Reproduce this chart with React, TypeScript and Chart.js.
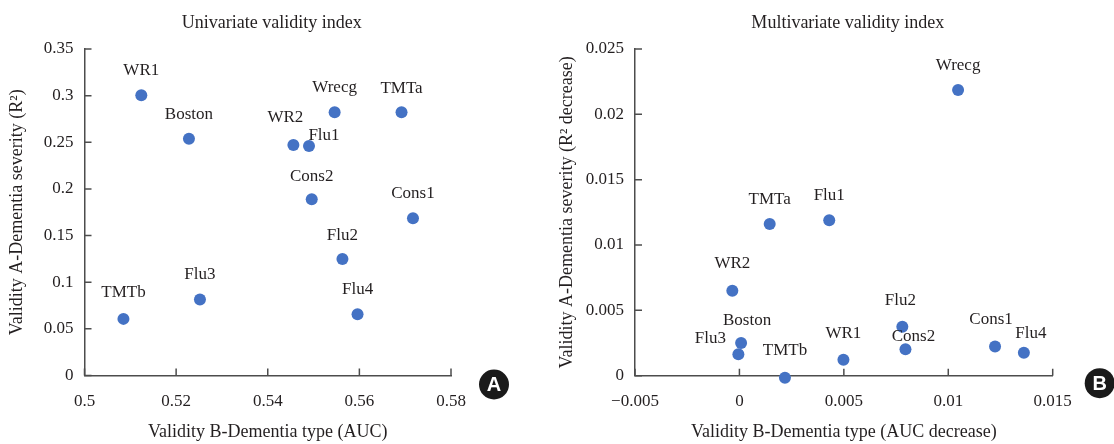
import React, { useEffect, useRef } from "react";
import { Chart, registerables } from "chart.js";

Chart.register(...registerables);

// ---------- data ----------
const tests = ["WR1", "Boston", "WR2", "Flu1", "Wrecg", "TMTa", "Cons2", "Cons1", "Flu2", "Flu3", "TMTb", "Flu4"];

// Univariate validity index (panel A)
const uniAUC = [0.5124, 0.5228, 0.5456, 0.549, 0.5546, 0.5692, 0.5496, 0.5717, 0.5563, 0.5252, 0.5085, 0.5596];
const uniR2 = [0.3005, 0.2539, 0.2472, 0.2461, 0.2823, 0.2823, 0.189, 0.1685, 0.125, 0.0814, 0.0607, 0.0657];

// Multivariate validity index (panel B)
const multiAUCDecrease = [0.00498, 0.00008, -0.00034, 0.0043, 0.01047, 0.00145, 0.00795, 0.01224, 0.0078, -0.00005, 0.00218, 0.01362];
const multiR2Decrease = [0.00122, 0.0025, 0.0065, 0.0119, 0.02187, 0.0116, 0.00203, 0.00224, 0.00375, 0.00165, -0.00015, 0.00176];

// ticks
const uniXTicks = [0.5, 0.52, 0.54, 0.56, 0.58];
const uniXTickLabels = ["0.5", "0.52", "0.54", "0.56", "0.58"];
const uniYTicks = [0, 0.05, 0.1, 0.15, 0.2, 0.25, 0.3, 0.35];
const uniYTickLabels = ["0", "0.05", "0.1", "0.15", "0.2", "0.25", "0.3", "0.35"];
const multiXTicks = [-0.005, 0, 0.005, 0.01, 0.015];
const multiXTickLabels = ["\u22120.005", "0", "0.005", "0.01", "0.015"];
const multiYTicks = [0, 0.005, 0.01, 0.015, 0.02, 0.025];
const multiYTickLabels = ["0", "0.005", "0.01", "0.015", "0.02", "0.025"];

// label placement nudges (px, relative to point)
const uniNudge: Record<string, [number, number]> = {
  WR2: [-8, -27],
  Flu1: [15, -10],
  Cons2: [0, -23],
  Flu2: [0, -23],
  Boston: [0, -24],
  TMTa: [0, -24],
  TMTb: [0, -26],
};
const multiNudge: Record<string, [number, number]> = {
  Wrecg: [0, -24],
  WR2: [0, -27],
  Flu2: [-2, -26],
  Boston: [6, -22],
  Flu3: [-28, -16],
  TMTb: [0, -27],
  WR1: [0, -26],
  Cons2: [8, -13],
  Cons1: [-4, -27],
  Flu4: [7, -19],
};

// ---------- styles ----------
const SERIF = "'Liberation Serif', 'Times New Roman', serif";
const TEXT = "#231f20";
const AXIS = "#4d4d4d";
const DOT = "#4472c4";

type PanelCfg = {
  title: string;
  xTitle: string;
  yTitle: string;
  xs: number[];
  ys: number[];
  xTicks: number[];
  xTickLabels: string[];
  yTicks: number[];
  yTickLabels: string[];
  nudge: Record<string, [number, number]>;
  badge: string;
  area: { left: number; right: number; top: number; bottom: number };
  yTitlePad: number;
  titleShift: number;
  badgeOffset: [number, number];
};

function Panel({ cfg, left }: { cfg: PanelCfg; left: number }) {
  const ref = useRef<HTMLCanvasElement | null>(null);
  useEffect(() => {
    const canvas = ref.current!;
    const W = 557;
    const H = 444;
    const a = cfg.area;

    const innerTicks = {
      id: "innerTicks",
      beforeDatasetsDraw(chart: any) {
        const { ctx, chartArea: ca, scales } = chart;
        const x = scales.x;
        const y = scales.y;
        ctx.save();
        ctx.strokeStyle = AXIS;
        ctx.lineWidth = 1.5;
        ctx.beginPath();
        x.ticks.forEach((t: any) => {
          const px = x.getPixelForValue(t.value);
          ctx.moveTo(px, ca.bottom);
          ctx.lineTo(px, ca.bottom - 7);
        });
        y.ticks.forEach((t: any) => {
          const py = y.getPixelForValue(t.value);
          ctx.moveTo(ca.left, py);
          ctx.lineTo(ca.left + 7, py);
        });
        ctx.stroke();
        ctx.restore();
      },
    };

    const decorations = {
      id: "decorations",
      afterDraw(chart: any) {
        const { ctx, chartArea: ca } = chart;
        ctx.save();
        // title
        ctx.fillStyle = TEXT;
        ctx.font = `18px ${SERIF}`;
        ctx.textAlign = "center";
        ctx.textBaseline = "middle";
        ctx.fillText(cfg.title, (ca.left + ca.right) / 2 + cfg.titleShift, 23);
        // point labels
        ctx.font = `17px ${SERIF}`;
        const meta = chart.getDatasetMeta(0);
        meta.data.forEach((el: any, i: number) => {
          const name = tests[i];
          const [dx, dy] = cfg.nudge[name] || [0, -25];
          ctx.fillText(name, el.x + dx, el.y + dy);
        });
        // badge
        const bx = ca.right + cfg.badgeOffset[0];
        const by = ca.bottom + cfg.badgeOffset[1];
        ctx.beginPath();
        ctx.arc(bx, by, 15, 0, Math.PI * 2);
        ctx.fillStyle = "#1a1a1a";
        ctx.fill();
        ctx.fillStyle = "#ffffff";
        ctx.font = `bold 20px 'Liberation Sans', Arial, sans-serif`;
        ctx.fillText(cfg.badge, bx, by + 1);
        ctx.restore();
      },
    };

    const chart = new Chart(canvas, {
      type: "scatter",
      data: {
        datasets: [
          {
            data: cfg.xs.map((x, i) => ({ x, y: cfg.ys[i] })),
            backgroundColor: DOT,
            borderColor: DOT,
            borderWidth: 0,
            pointRadius: 6,
            pointHoverRadius: 6,
            clip: false as any,
          },
        ],
      },
      options: {
        responsive: false,
        animation: false,
        events: [],
        layout: { padding: { left: 0, top: a.top, right: W - a.right, bottom: 0 } },
        plugins: { legend: { display: false }, tooltip: { enabled: false }, title: { display: false } },
        scales: {
          x: {
            type: "linear",
            min: cfg.xTicks[0],
            max: cfg.xTicks[cfg.xTicks.length - 1],
            afterBuildTicks: (s: any) => {
              s.ticks = cfg.xTicks.map((v) => ({ value: v }));
            },
            afterFit: (s: any) => {
              s.height = H - a.bottom;
            },
            grid: { display: false, drawTicks: false },
            border: { display: true, color: AXIS, width: 1.5 },
            ticks: {
              padding: 16,
              color: TEXT,
              font: { family: SERIF, size: 17 },
              maxRotation: 0,
              autoSkip: false,
              callback: (_v: any, i: number) => cfg.xTickLabels[i],
            },
            title: {
              display: true,
              text: cfg.xTitle,
              color: TEXT,
              font: { family: SERIF, size: 18 },
              padding: { top: 0, bottom: 0.5 },
            },
          },
          y: {
            type: "linear",
            min: cfg.yTicks[0],
            max: cfg.yTicks[cfg.yTicks.length - 1],
            afterBuildTicks: (s: any) => {
              s.ticks = cfg.yTicks.map((v) => ({ value: v }));
            },
            afterFit: (s: any) => {
              s.width = a.left;
            },
            grid: { display: false, drawTicks: false },
            border: { display: true, color: AXIS, width: 1.5 },
            ticks: {
              padding: 11,
              color: TEXT,
              font: { family: SERIF, size: 17 },
              autoSkip: false,
              callback: (_v: any, i: number) => cfg.yTickLabels[i],
            },
            title: {
              display: true,
              text: cfg.yTitle,
              color: TEXT,
              font: { family: SERIF, size: 18 },
              padding: { top: cfg.yTitlePad, bottom: 0 },
            },
          },
        },
      } as any,
      plugins: [innerTicks, decorations],
    });
    return () => chart.destroy();
  }, [cfg]);

  return (
    <div style={{ position: "absolute", left, top: 0, width: 557, height: 444 }}>
      <canvas ref={ref} width={557} height={444} style={{ display: "block" }} />
    </div>
  );
}

const panelA: PanelCfg = {
  title: "Univariate validity index",
  xTitle: "Validity B-Dementia type (AUC)",
  yTitle: "Validity A-Dementia severity (R\u00b2)",
  xs: uniAUC,
  ys: uniR2,
  xTicks: uniXTicks,
  xTickLabels: uniXTickLabels,
  yTicks: uniYTicks,
  yTickLabels: uniYTickLabels,
  nudge: uniNudge,
  badge: "A",
  area: { left: 84.5, right: 451, top: 49, bottom: 375.5 },
  yTitlePad: 6,
  titleShift: 4,
  badgeOffset: [43, 9],
};

const panelB: PanelCfg = {
  title: "Multivariate validity index",
  xTitle: "Validity B-Dementia type (AUC decrease)",
  yTitle: "Validity A-Dementia severity (R\u00b2 decrease)",
  xs: multiAUCDecrease,
  ys: multiR2Decrease,
  xTicks: multiXTicks,
  xTickLabels: multiXTickLabels,
  yTicks: multiYTicks,
  yTickLabels: multiYTickLabels,
  nudge: multiNudge,
  badge: "B",
  area: { left: 78, right: 495.7, top: 49, bottom: 375.7 },
  yTitlePad: -1,
  titleShift: 4,
  badgeOffset: [47, 7.5],
};

export default function App() {
  return (
    <div style={{ position: "absolute", left: 0, top: 0, width: 1114, height: 444, background: "#ffffff", overflow: "hidden" }}>
      <Panel cfg={panelA} left={0} />
      <Panel cfg={panelB} left={557} />
    </div>
  );
}
